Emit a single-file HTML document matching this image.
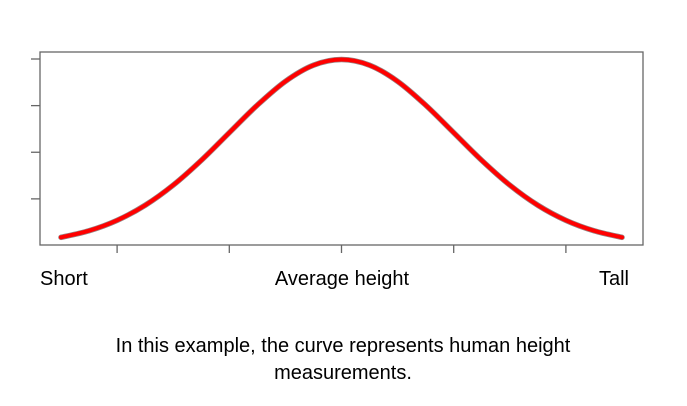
<!DOCTYPE html>
<html><head><meta charset="utf-8"><style>
html,body{margin:0;padding:0;background:#fff;width:687px;height:406px;overflow:hidden}
svg text{font-family:"Liberation Sans",sans-serif;fill:#000}
</style></head><body>
<svg width="687" height="406">
<g id="plot"></g>
<text x="40" y="285" font-size="20">Short</text>
<text x="342" y="285" font-size="20" text-anchor="middle">Average height</text>
<text x="629" y="285" font-size="20" text-anchor="end">Tall</text>
<text x="343" y="352" font-size="20" text-anchor="middle">In this example, the curve represents human height</text>
<text x="343" y="379" font-size="20" text-anchor="middle">measurements.</text>
</svg>
<script>
const xValues = [-2.5,-2.25,-2,-1.75,-1.5,-1.25,-1,-0.75,-0.5,-0.25,0,0.25,0.5,0.75,1,1.25,1.5,1.75,2,2.25,2.5];
const densities = [0.0175,0.0317,0.0540,0.0863,0.1295,0.1826,0.2420,0.3011,0.3521,0.3867,0.3989,0.3867,0.3521,0.3011,0.2420,0.1826,0.1295,0.0863,0.0540,0.0317,0.0175];
const xTicks = [-2,-1,0,1,2];
const yTicks = [0.1,0.2,0.3,0.4];
const X0=-2.5,X1=2.5,PX0=61,PX1=622;
const sx=v=>PX0+(v-X0)/(X1-X0)*(PX1-PX0);
const sy=v=>245.5-v/0.4*(245.5-59);
const NS='http://www.w3.org/2000/svg';
const g=document.getElementById('plot');
function mk(t,a){const e=document.createElementNS(NS,t);for(const k in a)e.setAttribute(k,a[k]);g.appendChild(e);return e;}
const box=mk('rect',{x:40,y:52,width:603,height:193,fill:'none',stroke:'#666','stroke-width':1.3});


yTicks.forEach(v=>{const t=mk('line',{x1:31,x2:40,y1:sy(v),y2:sy(v),stroke:'#666','stroke-width':1.3});

});
xTicks.forEach(v=>{const t=mk('line',{x1:sx(v),x2:sx(v),y1:245,y2:253,stroke:'#666','stroke-width':1.3});

});
const P=xValues.map((x,i)=>[sx(x),sy(densities[i])]);
let d=`M${P[0][0]},${P[0][1]}`;
for(let i=0;i<P.length-1;i++){const p0=P[Math.max(0,i-1)],p1=P[i],p2=P[i+1],p3=P[Math.min(P.length-1,i+2)];
d+=` C${p1[0]+(p2[0]-p0[0])/6},${p1[1]+(p2[1]-p0[1])/6} ${p2[0]-(p3[0]-p1[0])/6},${p2[1]-(p3[1]-p1[1])/6} ${p2[0]},${p2[1]}`;}
const sh=mk('path',{d:d,fill:'none',stroke:'#300','stroke-width':5.5,'stroke-linecap':'round',opacity:0.5});


const c=mk('path',{d:d,fill:'none',stroke:'#f00','stroke-width':4,'stroke-linecap':'round'});


</script>
</body></html>
